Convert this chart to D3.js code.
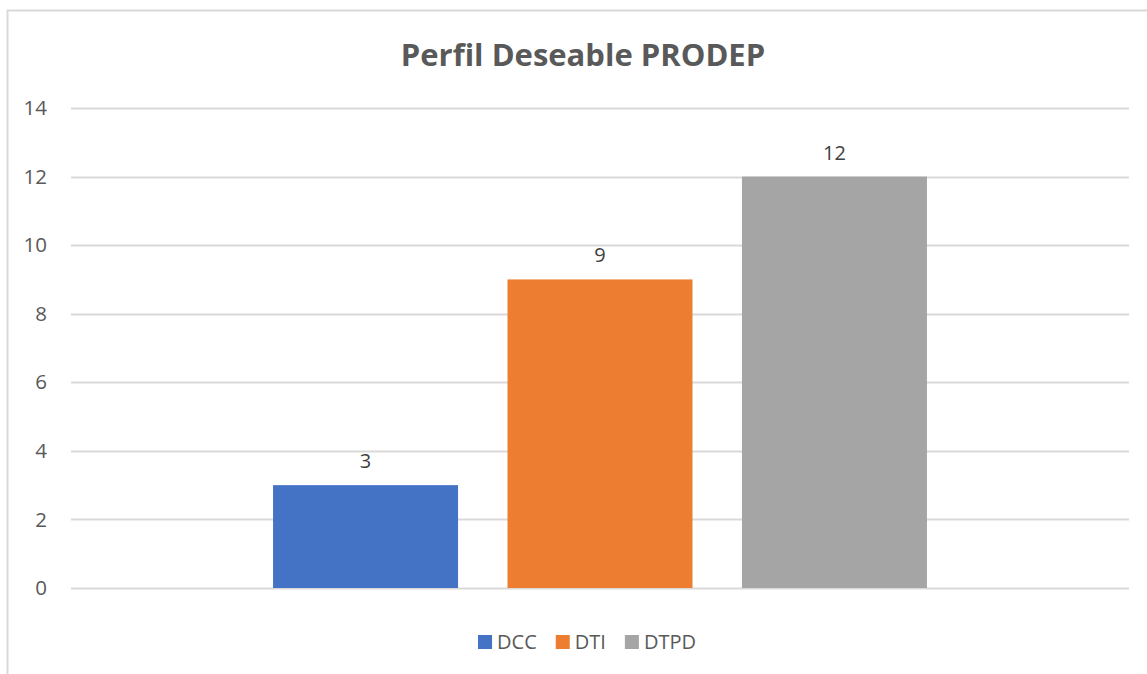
<!DOCTYPE html>
<html>
<head>
<meta charset="utf-8">
<script src="https://cdn.jsdelivr.net/npm/d3@7"></script>
<style>
    body { margin: 0; background: #fff; }
    text { font-family: "Open Sans", sans-serif; }
</style>
</head>
<body>
<div id="chart"></div>
<script>
// values
const Categories = ["PRODEP"];
const SeriesNames = ["DCC", "DTI", "DTPD"];
const SeriesValues = [3, 9, 12];
const SeriesColors = ["#4472C4", "#ED7D31", "#A5A5A5"];
const YTicks = [0, 2, 4, 6, 8, 10, 12, 14];
const Title = "Perfil Deseable PRODEP";

function createBarChart() {
    const width = 1147;
    const height = 674;
    const margin = { top: 108, right: 18, bottom: 86, left: 71 };

    const svg = d3.select("#chart").append("svg")
        .attr("width", width)
        .attr("height", height);

    // chart frame (runs off the right and bottom edges)
    svg.append("rect")
        .attr("x", 7.5).attr("y", 10.5)
        .attr("width", 1160).attr("height", 700)
        .attr("fill", "#fff")
        .attr("stroke", "#d9d9d9")
        .attr("stroke-width", 2);

    const y = d3.scaleLinear()
        .domain([0, 14])
        .range([height - margin.bottom, margin.top]);

    const x0 = d3.scaleBand()
        .domain(Categories)
        .range([margin.left, width - margin.right])
        .paddingOuter(0.309);

    const x1 = d3.scaleBand()
        .domain(SeriesNames)
        .range([0, x0.bandwidth()])
        .paddingInner(0.211);

    // gridlines
    svg.append("g")
        .selectAll("line")
        .data(YTicks)
        .enter().append("line")
            .attr("x1", margin.left)
            .attr("x2", width - margin.right)
            .attr("y1", d => Math.round(y(d)) + 0.5)
            .attr("y2", d => Math.round(y(d)) + 0.5)
            .attr("stroke", "#d9d9d9")
            .attr("stroke-width", 2);

    // y tick labels
    svg.append("g")
        .selectAll("text")
        .data(YTicks)
        .enter().append("text")
            .attr("x", 47)
            .attr("y", d => y(d))
            .attr("dy", "0.35em")
            .attr("text-anchor", "end")
            .attr("font-size", 20.5)
            .attr("fill", "#595959")
            .text(d => d);

    const bars = SeriesNames.map((name, i) => ({
        cat: Categories[0], name: name, value: SeriesValues[i], color: SeriesColors[i]
    }));

    const g = svg.append("g");

    g.selectAll("rect")
        .data(bars)
        .enter().append("rect")
            .attr("x", d => x0(d.cat) + x1(d.name))
            .attr("y", d => y(d.value))
            .attr("width", x1.bandwidth())
            .attr("height", d => y(0) - y(d.value))
            .attr("fill", d => d.color);

    g.selectAll("text")
        .data(bars)
        .enter().append("text")
            .attr("x", d => x0(d.cat) + x1(d.name) + x1.bandwidth() / 2)
            .attr("y", d => y(d.value) - 17)
            .attr("text-anchor", "middle")
            .attr("font-size", 20)
            .attr("fill", "#404040")
            .text(d => d.value);

    // title
    svg.append("text")
        .attr("x", 583)
        .attr("y", 66)
        .attr("text-anchor", "middle")
        .attr("font-size", 31)
        .attr("font-weight", "bold")
        .attr("fill", "#595959")
        .text(Title);

    // legend
    const legend = svg.append("g");
    const items = legend.selectAll("g")
        .data(bars)
        .enter().append("g");

    items.append("rect")
        .attr("width", 14).attr("height", 14)
        .attr("y", 635)
        .attr("fill", d => d.color);

    items.append("text")
        .attr("x", 19)
        .attr("y", 642)
        .attr("dy", "0.35em")
        .attr("font-size", 20)
        .attr("fill", "#595959")
        .text(d => d.name);

    // lay out legend items side by side and center them
    let offset = 0;
    items.each(function() {
        const w = this.getBBox().width;
        d3.select(this).attr("transform", `translate(${offset},0)`);
        offset += w + 19;
    });
    const total = offset - 19;
    legend.attr("transform", `translate(${587 - total / 2},0)`);
}

createBarChart();
</script>
</body>
</html>
